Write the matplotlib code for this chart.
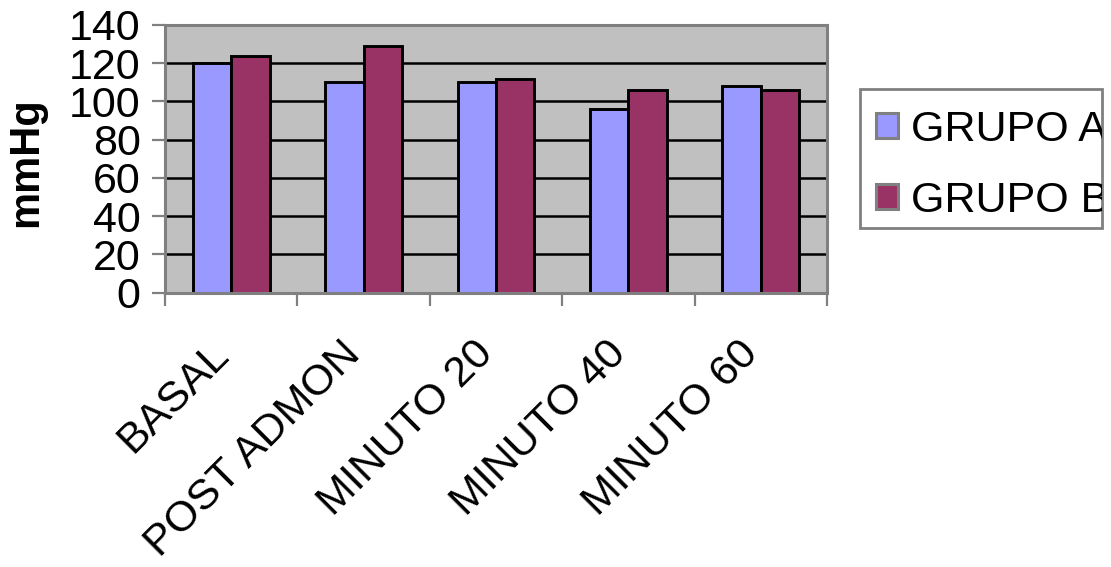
import matplotlib
matplotlib.use("Agg")
import matplotlib.pyplot as plt
import numpy as np
from matplotlib.patches import Rectangle
from matplotlib.transforms import Bbox, TransformedBbox, ScaledTranslation

categories = ["BASAL", "POST ADMON", "MINUTO 20", "MINUTO 40", "MINUTO 60"]
grupo_a = [120, 110, 110, 96, 108]
grupo_b = [124, 129, 112, 106, 106]
series_names = ["GRUPO A", "GRUPO B"]
y_ticks = [0, 20, 40, 60, 80, 100, 120, 140]

W, H = 1111, 567
plt.rcParams["font.family"] = ["Liberation Sans", "DejaVu Sans"]
fig = plt.figure(figsize=(W / 100, H / 100), dpi=100)
fig.patch.set_facecolor("white")

ax_l, ax_r, ax_t, ax_b = 165, 827, 25, 292.5
ax = fig.add_axes([ax_l / W, 1 - ax_b / H, (ax_r - ax_l) / W, (ax_b - ax_t) / H])
ax.set_facecolor("#C0C0C0")

x = np.arange(len(categories))
w = 0.29
bars_a = ax.bar(x - w / 2, grupo_a, w, color="#9999FF", edgecolor="black", linewidth=2.1, zorder=3, label=series_names[0])
bars_b = ax.bar(x + w / 2, grupo_b, w, color="#993366", edgecolor="black", linewidth=2.1, zorder=3, label=series_names[1])

ax.set_xlim(-0.5, len(categories) - 0.5)
ax.set_ylim(0, 140)
ax.set_yticks(y_ticks)
ax.set_yticklabels([str(v) for v in y_ticks], fontsize=31)
ax.yaxis.grid(True, color="black", linewidth=1.8, zorder=1)
ax.set_axisbelow(True)

gray = "#808080"
for s in ax.spines.values():
    s.set_color(gray)
    s.set_linewidth(2.2)
    s.set_zorder(4)

ax.tick_params(axis="y", direction="out", length=9.5, width=1.6, color=gray, pad=8)

# category boundaries carry the tick marks, centers carry the labels
ax.set_xticks(np.arange(-0.5, len(categories)), minor=False)
ax.set_xticklabels([])
ax.set_xticks(x, minor=True)
ax.set_xticklabels(categories, minor=True, fontsize=31, rotation=45,
                   rotation_mode="anchor", ha="right", va="center")
ax.tick_params(axis="x", which="major", direction="out", length=9.5, width=1.6, color=gray)
ax.tick_params(axis="x", which="minor", length=0, pad=40)
offset = ScaledTranslation(-9 / 100, 0, fig.dpi_scale_trans)
for lbl in ax.get_xticklabels(minor=True):
    lbl.set_transform(lbl.get_transform() + offset)

ax.set_ylabel("mmHg", fontsize=30, fontweight="bold")
ax.yaxis.set_label_coords((46 - ax_l) / (ax_r - ax_l), (ax_b - 162) / (ax_b - ax_t))

# legend with its own frame; entries clipped to the frame
lx0, lx1, ly0, ly1 = 860, 1102, 89, 228
frame = Rectangle((lx0 / W, 1 - ly1 / H), (lx1 - lx0) / W, (ly1 - ly0) / H,
                  transform=fig.transFigure, facecolor="white", edgecolor=gray,
                  linewidth=2.0, zorder=1)
fig.patches.append(frame)
leg = fig.legend(handles=[bars_a, bars_b], labels=series_names, loc="upper left",
                 bbox_to_anchor=(876 / W, 1 - 110 / H), frameon=False, fontsize=31,
                 handlelength=0.52, handleheight=0.52, handletextpad=0.3,
                 labelspacing=0.72, borderpad=0.0, borderaxespad=0.0)
for h in leg.legend_handles:
    h.set_edgecolor(gray)
    h.set_linewidth(2.2)
clip = TransformedBbox(Bbox([[lx0 / W, 1 - ly1 / H], [lx1 / W, 1 - ly0 / H]]), fig.transFigure)
for t in leg.get_texts():
    t.set_clip_box(clip)
    t.set_clip_on(True)

fig.savefig("out.png", dpi=100)
